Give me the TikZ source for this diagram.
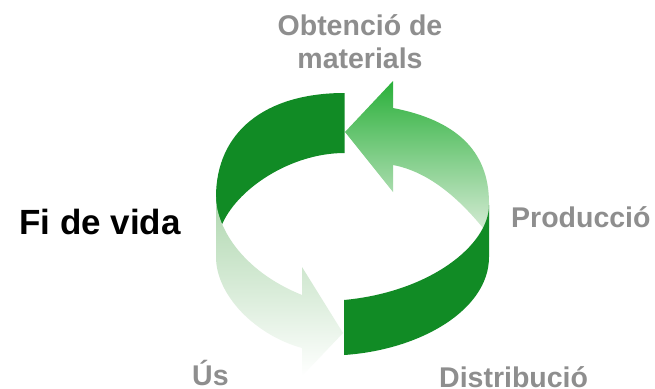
\documentclass[tikz,border=0pt]{standalone}
\usepackage{fontspec}
\setmainfont{Liberation Sans}
\definecolor{dkgreen}{HTML}{118B25}
\definecolor{arrowtop}{HTML}{2AB03A}
\definecolor{arrowbot}{HTML}{D2EAD2}
\definecolor{fadetop}{HTML}{AFD7AF}
\definecolor{labelgray}{HTML}{8E8E8E}
\begin{document}
\begin{tikzpicture}[x=1pt,y=-1pt,
  lbl/.style={font=\bfseries\fontsize{28.5}{33}\selectfont, text=labelgray, inner sep=0pt},
  bigl/.style={font=\bfseries\fontsize{35}{40}\selectfont, text=black, inner sep=0pt}]
\useasboundingbox (0,0) rectangle (655,388);
\fill[white] (0,0) rectangle (655,388);
% back-left dark piece
\fill[dkgreen] (344.5,93) -- (344.5,153)
  .. controls (290,153) and (235,190) .. (221,227)
  .. controls (218,218) and (216,208) .. (216,197)
  .. controls (216,132) and (265,93) .. (344.5,93) -- cycle;
% back-right light arrow
\shade[top color=arrowtop, bottom color=arrowbot]
  (345,132) -- (393,81) -- (393,108)
  .. controls (455,120) and (489,150) .. (489,203)
  -- (489,228) -- (483,228)
  .. controls (460,200) and (430,172) .. (393,165)
  -- (393,192) -- cycle;
% front-left faded arrow
\shade[top color=fadetop, bottom color=white]
  (216,197) .. controls (216,225) and (240,270) .. (302,295)
  -- (302,267) -- (343,333) -- (302,376) -- (302,348)
  .. controls (255,335) and (216,295) .. (216,257) -- cycle;
% front-right dark piece
\fill[dkgreen] (344,300) -- (344,355)
  .. controls (420,350) and (489,310) .. (489,257)
  -- (489,205)
  .. controls (489,245) and (430,292) .. (344,300) -- cycle;
% labels
\node[lbl, align=center, anchor=base] (obt) at (360,68) {Obtenció de\\materials};
\node[bigl, anchor=base west] (fi) at (19,234) {Fi de vida};
\node[lbl, anchor=base west] (prod) at (511,227) {Producció};
\node[lbl, anchor=base west, text depth=0pt] (us) at (192,385) {Ús};
\node[lbl, anchor=base west, text depth=0pt] (dist) at (439,387) {Distribució};
\end{tikzpicture}
\end{document}
